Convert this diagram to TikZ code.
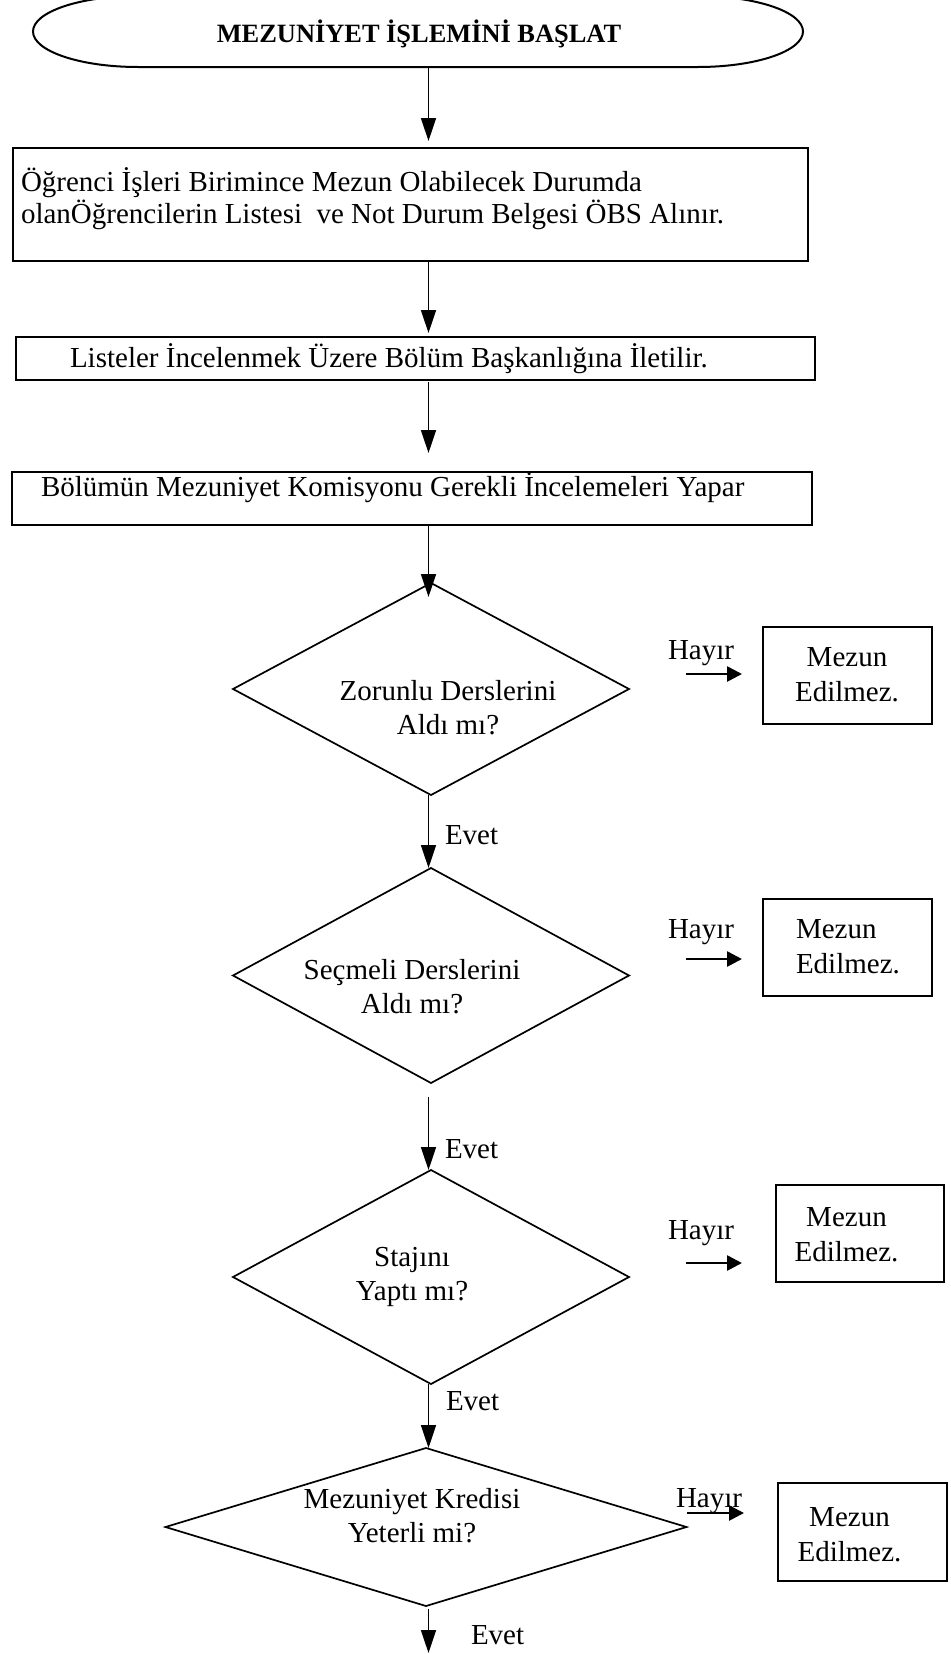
\documentclass[tikz,border=0pt]{standalone}
\usepackage{fontspec}
\setmainfont{Liberation Serif}
\usetikzlibrary{arrows.meta,shapes.geometric,calc}
\begin{document}
\begin{tikzpicture}[x=0.5pt,y=-0.5pt,
  frame/.style={draw,line width=1pt,inner sep=0pt,outer sep=0pt},
  dia/.style={draw,diamond,line width=0.85pt,inner sep=0pt,outer sep=0pt},
  txt/.style={inner sep=0pt,outer sep=0pt,font=\fontsize{14.5pt}{14pt}\selectfont},
  dtxt/.style={txt,align=center,font=\fontsize{14.5pt}{16.7pt}\selectfont},
  mtxt/.style={txt,font=\fontsize{14.5pt}{17.5pt}\selectfont},
  arr/.style={line width=0.75pt,-{Triangle[length=11.5pt,width=7.5pt]}},
  harr/.style={line width=1.3pt,-{Triangle[length=7.5pt,width=7.5pt]}}]
\useasboundingbox (0,0) rectangle (950,1654);

% start terminator
\node[inner sep=0pt,outer sep=0pt,minimum width=385pt,minimum height=35.5pt] (start) at (418,31.5) {};
\draw[line width=1pt] (138,-4) -- (698,-4)
  arc[start angle=-90,end angle=90,x radius=105,y radius=35.5] -- (138,67)
  arc[start angle=90,end angle=270,x radius=105,y radius=35.5] -- cycle;
\node[inner sep=0pt,anchor=base,font=\bfseries\fontsize{13.2pt}{15pt}\selectfont] (title) at (419,42) {MEZUNİYET İŞLEMİNİ BAŞLAT};

% process boxes
\node[frame,minimum width=397.75pt,minimum height=56.75pt] (box1) at (410.25,204.25) {};
\node[txt,anchor=base west,align=left] (t1) at (21,223) {Öğrenci İşleri Birimince Mezun Olabilecek Durumda\\olanÖğrencilerin Listesi\ \ ve Not Durum Belgesi ÖBS Alınır.};
\node[frame,minimum width=399.5pt,minimum height=21.5pt] (box2) at (415.5,358.5) {};
\node[txt,anchor=base west] (t2) at (70,367) {Listeler İncelenmek Üzere Bölüm Başkanlığına İletilir.};
\node[frame,minimum width=400.25pt,minimum height=26.5pt] (box3) at (411.75,498.5) {};
\node[txt,anchor=base west] (t3) at (41,496) {Bölümün Mezuniyet Komisyonu Gerekli İncelemeleri Yapar};

% decisions
\node[dia,minimum width=198pt,minimum height=106pt] (d1) at (431,689) {};
\node[dtxt,anchor=base] (td1) at (448,734) {Zorunlu Derslerini\\Aldı mı?};
\node[dia,minimum width=198pt,minimum height=107.5pt] (d2) at (431,975.5) {};
\node[dtxt,anchor=base] (td2) at (412,1013) {Seçmeli Derslerini\\Aldı mı?};
\node[dia,minimum width=198pt,minimum height=107pt] (d3) at (431,1277) {};
\node[dtxt,anchor=base] (td3) at (412,1300) {Stajını\\Yaptı mı?};
\node[dia,minimum width=260.5pt,minimum height=79pt] (d4) at (426,1527) {};
\node[dtxt,anchor=base] (td4) at (412,1542) {Mezuniyet Kredisi\\Yeterli mi?};

% Mezun Edilmez boxes
\node[frame,minimum width=84.5pt,minimum height=48.5pt] (m1) at (847.5,675.5) {};
\node[mtxt,anchor=base,align=center] (tm1) at (847,701) {Mezun\\Edilmez.};
\node[frame,minimum width=84.5pt,minimum height=48.5pt] (m2) at (847.5,947.5) {};
\node[mtxt,anchor=base west,align=left] (tm2) at (796,973) {Mezun\\Edilmez.};
\node[frame,minimum width=84pt,minimum height=48.5pt] (m3) at (860,1233.5) {};
\node[mtxt,anchor=base,align=center] (tm3) at (846.5,1261) {Mezun\\Edilmez.};
\node[frame,minimum width=84.5pt,minimum height=49pt] (m4) at (862.5,1532) {};
\node[mtxt,anchor=base,align=center] (tm4) at (849.5,1561) {Mezun\\Edilmez.};

% labels
\node[txt,anchor=base west] (h1) at (668,659) {Hayır};
\node[txt,anchor=base west] (h2) at (668,938) {Hayır};
\node[txt,anchor=base west] (h3) at (668,1239) {Hayır};
\node[txt,anchor=base west] (h4) at (676,1507) {Hayır};
\node[txt,anchor=base west] (e1) at (445,844) {Evet};
\node[txt,anchor=base west] (e2) at (445,1158) {Evet};
\node[txt,anchor=base west] (e3) at (446,1410) {Evet};
\node[txt,anchor=base west] (e4) at (471,1644) {Evet};

% main connectors
\coordinate (spine) at (428.5,0);
\coordinate (endpt) at (428.5,1653);
\draw[arr,shorten >=3.25pt] (start.south -| spine) -- (box1.north -| spine);
\draw[arr,shorten >=2pt] (box1.south -| spine) -- (box2.north -| spine);
\draw[arr,shorten >=9.5pt,shorten <=1pt] (box2.south -| spine) -- (box3.north -| spine);
\draw[arr,shorten >=-7pt] (box3.south -| spine) -- (d1.north -| spine);
\draw[arr] (d1.south -| spine) -- (d2.north -| spine);
\draw[arr,shorten <=7pt] (d2.south -| spine) -- (d3.north -| spine);
\draw[arr] (d3.south -| spine) -- (d4.north -| spine);
\draw[arr,shorten <=1.5pt] (d4.south -| spine) -- (endpt);

% Hayir arrows
\coordinate (ha1) at (686,674);
\coordinate (ha2) at (686,959);
\coordinate (ha3) at (686,1263);
\coordinate (ha4) at (687,1513);
\draw[harr,shorten >=10.5pt] (ha1) -- (ha1 -| m1.west);
\draw[harr,shorten >=10.5pt] (ha2) -- (ha2 -| m2.west);
\draw[harr,shorten >=17pt] (ha3) -- (ha3 -| m3.west);
\draw[harr,shorten >=17pt] (ha4) -- (ha4 -| m4.west);
\end{tikzpicture}
\end{document}
